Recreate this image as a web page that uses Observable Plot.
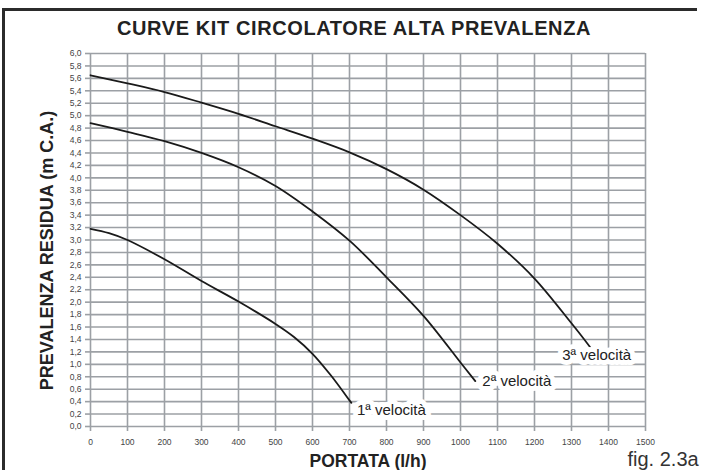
<!DOCTYPE html>
<html><head><meta charset="utf-8">
<script src="https://cdn.jsdelivr.net/npm/d3@7"></script>
<script src="https://cdn.jsdelivr.net/npm/@observablehq/plot@0.6"></script>
<style>
body{margin:0;background:#fff;}
#wrap{position:relative;width:707px;height:470px;overflow:hidden;background:#fff;}
#frame{position:absolute;left:2px;top:8px;width:695px;height:470px;border-top:3px solid #2b2b2b;border-left:3px solid #2b2b2b;box-sizing:border-box;pointer-events:none;}
</style></head><body>
<div id="wrap"><div id="frame"></div></div>
<script>
const titleText = "CURVE KIT CIRCOLATORE ALTA PREVALENZA";
const yLabel = "PREVALENZA RESIDUA (m C.A.)";
const xLabel = "PORTATA (l/h)";
const figLabel = "fig. 2.3a";

const xTicks = [0,100,200,300,400,500,600,700,800,900,1000,1100,1200,1300,1400,1500];
const yTicks = [0,0.2,0.4,0.6,0.8,1.0,1.2,1.4,1.6,1.8,2.0,2.2,2.4,2.6,2.8,3.0,3.2,3.4,3.6,3.8,4.0,4.2,4.4,4.6,4.8,5.0,5.2,5.4,5.6,5.8,6.0];

// 1ª velocità
const flow1 = [0,50,100,200,300,400,500,550,600,650,700,705];
const head1 = [3.18,3.11,3.00,2.69,2.34,2.01,1.65,1.44,1.17,0.82,0.42,0.38];
// 2ª velocità
const flow2 = [0,100,200,300,400,500,600,700,800,900,1000,1040];
const head2 = [4.88,4.74,4.59,4.40,4.17,3.87,3.46,2.99,2.40,1.78,1.03,0.73];
// 3ª velocità
const flow3 = [0,100,200,300,400,500,600,700,800,900,1000,1100,1200,1300,1350];
const head3 = [5.65,5.52,5.38,5.21,5.03,4.83,4.63,4.41,4.14,3.81,3.40,2.94,2.38,1.66,1.28];

const speedNames = ["1ª velocità","2ª velocità","3ª velocità"];
const labelFlow = [720,1059,1275];
const labelHead = [0.26,0.73,1.14];

const toRows = (xs, ys) => xs.map((x,i) => ({x, y: ys[i]}));
const labels = speedNames.map((t,i) => ({x: labelFlow[i], y: labelHead[i], t}));

const gridColor = "#9ca0a5";
const fmtY = d => d.toFixed(1).replace(".", ",");
const fmtX = d => String(d);

const chart = Plot.plot({
  width: 707, height: 470,
  marginLeft: 90, marginRight: 62, marginTop: 53, marginBottom: 44,
  x: {domain: [0,1500]},
  y: {domain: [0,6]},
  style: {fontFamily: "'Liberation Sans', Arial, sans-serif", background: "white", color: "#333"},
  marks: [
    Plot.gridX(xTicks, {stroke: gridColor, strokeOpacity: 1, strokeWidth: 1.6}),
    Plot.gridY(yTicks, {stroke: gridColor, strokeOpacity: 1, strokeWidth: 1.6}),
    Plot.axisX(xTicks, {tickSize: 5, tickPadding: 7, fontSize: 8.5, tickFormat: fmtX, stroke: gridColor, strokeWidth: 1.6, fill: "#444", label: null}),
    Plot.axisY(yTicks, {tickSize: 5, tickPadding: 4, fontSize: 8.5, tickFormat: fmtY, stroke: gridColor, strokeWidth: 1.6, fill: "#444", label: null}),
    Plot.line(toRows(flow1, head1), {x: "x", y: "y", curve: "catmull-rom", stroke: "#1a1a1a", strokeWidth: 1.8}),
    Plot.line(toRows(flow2, head2), {x: "x", y: "y", curve: "catmull-rom", stroke: "#1a1a1a", strokeWidth: 1.8}),
    Plot.line(toRows(flow3, head3), {x: "x", y: "y", curve: "catmull-rom", stroke: "#1a1a1a", strokeWidth: 1.8}),
    Plot.text(labels, {x: "x", y: "y", text: "t", textAnchor: "start", lineAnchor: "middle", fontSize: 15, fill: "#222", stroke: "white", strokeWidth: 10}),
    Plot.text([titleText], {frameAnchor: "top", textAnchor: "middle", dx: -14, dy: -25, lineAnchor: "middle", fontSize: 20, fontWeight: "bold", fill: "#222"}),
    Plot.text([yLabel], {frameAnchor: "left", textAnchor: "middle", rotate: -90, dx: -43, dy: 10.5, lineAnchor: "middle", fontSize: 18, fontWeight: "bold", fill: "#222"}),
    Plot.text([xLabel], {frameAnchor: "bottom", textAnchor: "middle", dy: 35, lineAnchor: "middle", fontSize: 17.5, fontWeight: "bold", fill: "#222"}),
    Plot.text([figLabel], {frameAnchor: "bottom-right", dx: -18, dy: 39, textAnchor: "start", lineAnchor: "bottom", fontSize: 20, fill: "#333"})
  ]
});
d3.select(chart).selectAll("text").filter(function(){ return this.textContent === titleText; }).attr("letter-spacing", "0.6");
document.getElementById("wrap").prepend(chart);
</script>
</body></html>
